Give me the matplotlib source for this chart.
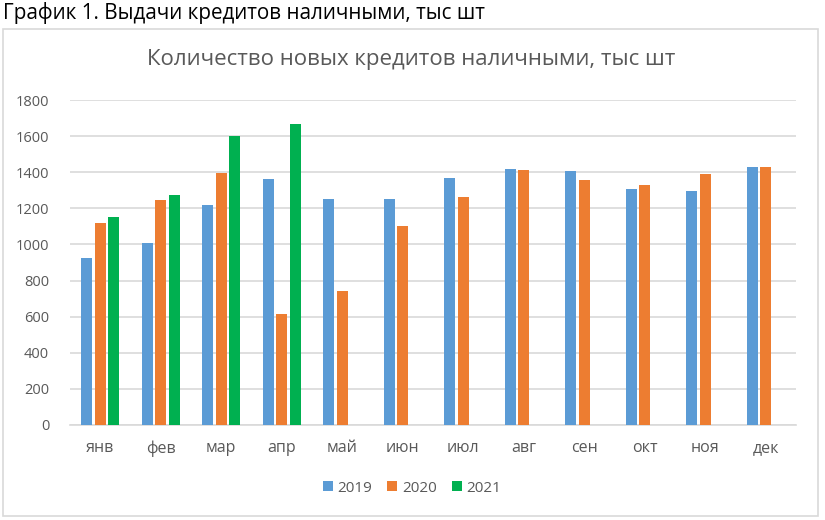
import matplotlib
matplotlib.use("Agg")
import matplotlib.pyplot as plt
import numpy as np
from matplotlib.patches import Rectangle

plt.rcParams['font.family'] = ['Open Sans', 'DejaVu Sans']

months = ["янв", "фев", "мар", "апр", "май", "июн", "июл", "авг", "сен", "окт", "ноя", "дек"]
s2019 = [926, 1010, 1220, 1364, 1253, 1253, 1370, 1420, 1408, 1309, 1298, 1431]
s2020 = [1120, 1248, 1397, 616, 744, 1104, 1264, 1414, 1359, 1331, 1392, 1431]
s2021 = [1154, 1276, 1602, 1669, np.nan, np.nan, np.nan, np.nan, np.nan, np.nan, np.nan, np.nan]
series_names = ["2019", "2020", "2021"]
yticks = [0, 200, 400, 600, 800, 1000, 1200, 1400, 1600, 1800]

colors = ["#5b9bd5", "#ed7d31", "#00b050"]
W, H = 825, 520
fig = plt.figure(figsize=(W / 100, H / 100), dpi=100)

# chart frame
fig.patches.append(Rectangle((3 / W, 1 - 516 / H), (818 - 3) / W, (516 - 29) / H,
                             transform=fig.transFigure, fill=False,
                             edgecolor="#d9d9d9", linewidth=1.2))

fig.text(3 / W, 1 - 13 / H, "График 1. Выдачи кредитов наличными, тыс шт",
         fontsize=14.9, color="black", va="center", ha="left")
fig.text(411 / W, 1 - 60 / H, "Количество новых кредитов наличными, тыс шт",
         fontsize=16, color="#595959", va="center", ha="center")

ax = fig.add_axes([70 / W, 1 - 425 / H, (796 - 70) / W, (425 - 100) / H])
x = np.arange(len(months))
bw = 0.174
off = 0.223
for i, (vals, name) in enumerate(zip([s2019, s2020, s2021], series_names)):
    ax.bar(x + (i - 1) * off, vals, width=bw, color=colors[i], label=name, zorder=3)

ax.set_xlim(-0.5, len(months) - 0.5)
ax.set_ylim(0, 1800)
ax.set_yticks(yticks)
ax.set_xticks(x)
ax.set_xticklabels(months)
ax.grid(axis="y", color="#d9d9d9", linewidth=1.2, zorder=0)
for s in ["top", "right", "left"]:
    ax.spines[s].set_visible(False)
ax.spines["bottom"].set_color("#d9d9d9")
ax.spines["bottom"].set_linewidth(1.2)
ax.tick_params(axis="y", length=0, pad=15, labelsize=10.5, labelcolor="#595959")
ax.tick_params(axis="x", length=0, pad=11, labelsize=11.5, labelcolor="#595959")

handles, labels = ax.get_legend_handles_labels()
leg = fig.legend(handles, labels, loc="center", bbox_to_anchor=(412 / W, 1 - 488 / H),
                 ncol=3, frameon=False, handlelength=0.65, handleheight=0.65,
                 handletextpad=0.3, columnspacing=1.0, fontsize=11)
for t in leg.get_texts():
    t.set_color("#595959")

fig.savefig("out.png", dpi=100)
